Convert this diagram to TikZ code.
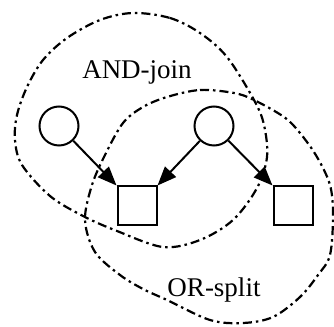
\documentclass[tikz,border=0pt]{standalone}
\usepackage{fontspec}
\setmainfont{Liberation Serif}
\usetikzlibrary{arrows.meta}

\begin{document}
\begin{tikzpicture}[x=1pt,y=1pt,place/.style={draw,circle,minimum size=39pt,inner sep=0pt,line width=2pt},trans/.style={draw,rectangle,minimum size=39pt,inner sep=0pt,line width=2pt},flow/.style={-{Triangle[length=19pt,width=15pt]},line width=2pt},region/.style={line width=2.2pt,dash pattern=on 9pt off 4pt on 2.5pt off 4pt},tag/.style={font=\fontsize{27}{30}\selectfont,anchor=base,inner sep=0pt}]
\useasboundingbox (0,0) rectangle (334,326);
\node[place] (c1) at (59,200) {};
\node[place] (c2) at (214,200) {};
\node[trans] (s1) at (137,120) {};
\node[trans] (s2) at (293,120) {};
\draw[flow] (c1) -- (s1.north west);
\draw[flow] (c2) -- (s1.north east);
\draw[flow] (c2) -- (s2.north west);
\node[tag] (andjoin) at (137,247) {AND-join};
\node[tag] (orsplit) at (214,29) {OR-split};
% regions
\draw[region] plot[smooth cycle,tension=0.55] coordinates {(133,313) (170,308) (200,293) (227,269) (254,226) (264,201) (267,169) (257,138) (233,106) (200,86) (163,79) (117,95) (83,110) (50,130) (22,161) (15,186) (17,211) (27,239) (43,266) (67,288) (100,306)};
\draw[region] plot[smooth cycle,tension=0.55] coordinates {(167,229) (200,236) (234,233) (254,226) (284,209) (300,193) (317,169) (330,141) (333,111) (330,71) (318,51) (300,29) (273,9) (243,3) (210,6) (167,26) (143,37) (120,51) (95,74) (85,106) (92,141) (105,171) (123,203) (143,219)};
\end{tikzpicture}
\end{document}
